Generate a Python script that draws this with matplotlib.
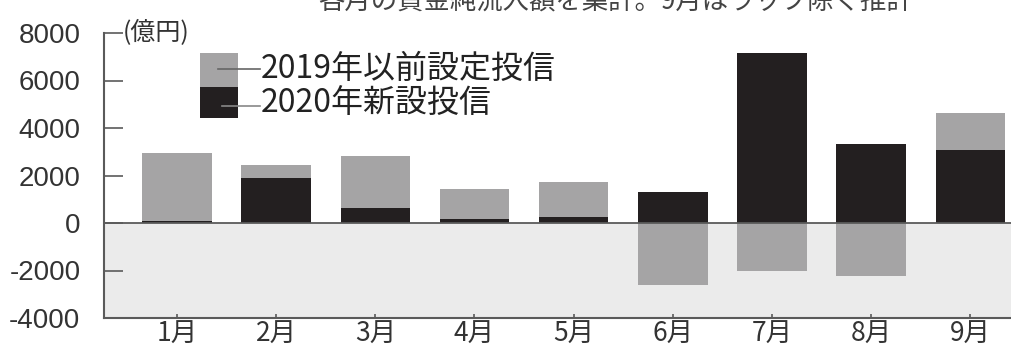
import numpy as np
import matplotlib
matplotlib.use('Agg')
import matplotlib.pyplot as plt
from matplotlib.patches import Rectangle
from matplotlib.lines import Line2D

plt.rcParams['font.family'] = ['Liberation Sans', 'Noto Sans CJK JP', 'DejaVu Sans']

# データ(億円)
months = ['1月', '2月', '3月', '4月', '5月', '6月', '7月', '8月', '9月']
new_2020 = [80, 1900, 630, 150, 250, 1300, 7150, 3330, 3070]
old_2019 = [2850, 550, 2200, 1300, 1480, -2600, -2000, -2230, 1560]
yticks = [-4000, -2000, 0, 2000, 4000, 6000, 8000]
label_old = '2019年以前設定投信'
label_new = '2020年新設投信'
unit = '(億円)'
title = '各月の資金純流入額を集計。9月はラップ除く推計'

gray = '#a5a4a5'
black = '#231f20'
shade = '#ebebeb'
axcol = '#5a5a5a'
jp = ['Noto Sans CJK JP', 'DejaVu Sans']

W, H = 1011, 353
fig = plt.figure(figsize=(W / 100, H / 100), dpi=100)
ax = fig.add_axes([104 / W, 1 - 318 / H, 1 - 104 / W, (318 - 33) / H])

x = np.arange(1, len(months) + 1)
new = np.array(new_2020)
old = np.array(old_2019)
# 正の値は新設の上に積み上げ、負の値はゼロから下へ
base = np.where(old > 0, new, 0)

ax.axhspan(-4000, 0, color=shade, zorder=0, lw=0)
ax.bar(x, new, width=0.70, color=black, zorder=2)
ax.bar(x, old, width=0.70, bottom=base, color=gray, zorder=2)
ax.axhline(0, color=axcol, lw=1.3, zorder=3)

ax.set_xlim(0.264, 9.41)
ax.set_ylim(-4000, 8000)
ax.set_yticks(yticks)
ax.set_yticklabels([str(v) for v in yticks], fontsize=20, color='#333333')
ax.set_xticks(x)
ax.set_xticklabels(months, fontsize=19, family=jp, color='#333333')
ax.tick_params(axis='y', direction='in', length=14, width=1.2, color=axcol, pad=17)
ax.tick_params(axis='x', direction='in', length=3, width=1.2, color=axcol, pad=2)
for s in ['top', 'right']:
    ax.spines[s].set_visible(False)
for s in ['left', 'bottom']:
    ax.spines[s].set_color(axcol)
    ax.spines[s].set_linewidth(1.5)
ax.set_facecolor('none')


def fx(px):
    return px / W


def fy(py):
    return 1 - py / H


fig.text(fx(123), fy(33), unit, family=jp, fontsize=18, va='center', ha='left', color='#333333')

# 凡例
fig.add_artist(Rectangle((fx(200), fy(87)), fx(38), 34 / H, transform=fig.transFigure,
                         color=gray, lw=0))
fig.add_artist(Rectangle((fx(200), fy(118)), fx(38), 31 / H, transform=fig.transFigure,
                         color=black, lw=0))
fig.add_artist(Line2D([fx(218), fx(260)], [fy(69), fy(69)], transform=fig.transFigure,
                      color='#666666', lw=1.2))
fig.add_artist(Line2D([fx(222), fx(260)], [fy(106), fy(106)], transform=fig.transFigure,
                      color='#888888', lw=1.2))
fig.text(fx(261), fy(69), label_old, family=jp, fontsize=23, va='center', ha='left', color='#222222')
fig.text(fx(261), fy(104), label_new, family=jp, fontsize=23, va='center', ha='left', color='#222222')

# 上端で切れた見出し
fig.text(fx(318), fy(2), title, family=jp, fontsize=19, va='center', ha='left', color='#444444')

fig.savefig('out.png', dpi=100)
